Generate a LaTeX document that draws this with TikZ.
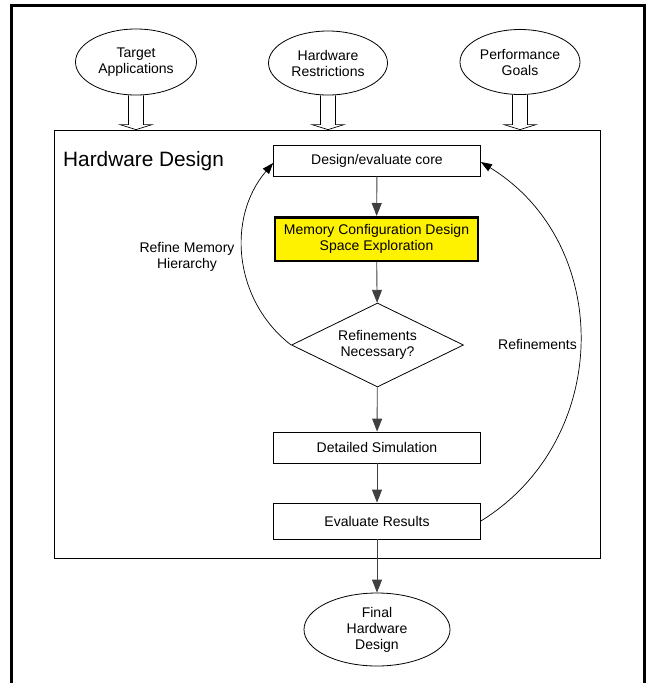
\documentclass[tikz,border=0pt]{standalone}
\usepackage{fontspec}
\setmainfont{Liberation Sans}
\usetikzlibrary{shapes.geometric,arrows.meta,calc}
\begin{document}
\begin{tikzpicture}[x=1pt,y=-1pt,
  every node/.style={font=\fontsize{14}{16}\selectfont, align=center, inner sep=0pt},
  oval/.style={draw, ellipse, line width=0.8pt},
  proc/.style={draw, rectangle, line width=0.8pt, minimum width=207pt},
  flow/.style={draw=black!75, line width=0.9pt, -{Triangle[length=13pt,width=10pt]}},
  loopback/.style={draw=black, line width=0.7pt, -{Triangle[length=11pt,width=8pt]}},
  hollow/.style={draw, line width=0.7pt}]
\useasboundingbox (0,0) rectangle (649,683);
\fill[white] (0,0) rectangle (649,683);
\draw[line width=3pt] (11,683) -- (11,5) -- (644,5) -- (644,683);

% container
\node[draw, line width=0.8pt, minimum width=546pt, minimum height=428pt] (hw) at (327,344) {};
\node[anchor=base west, font=\fontsize{20.8}{24}\selectfont] (title) at (63,166) {Hardware Design};

% inputs
\node[oval, minimum width=121pt, minimum height=66pt] (ta) at (136,62) {Target\\Applications};
\node[oval, minimum width=119pt, minimum height=64pt] (hr) at (328,63) {Hardware\\Restrictions};
\node[oval, minimum width=120pt, minimum height=65pt] (pg) at (520,62) {Performance\\Goals};

\foreach \e in {ta,hr,pg} {
  \draw[hollow] ($(\e.south)+(-7.5,0)$) -- ($(\e.south |- hw.north)+(-7.5,-5)$)
    -- ($(\e.south |- hw.north)+(-16,-5)$) -- (\e.south |- hw.north)
    -- ($(\e.south |- hw.north)+(16,-5)$) -- ($(\e.south |- hw.north)+(7.5,-5)$)
    -- ($(\e.south)+(7.5,0)$);
}

% process
\node[proc, minimum height=31pt] (core) at (377,160.5) {Design/evaluate core};
\node[draw, line width=2.5pt, fill=yellow, minimum width=203pt, minimum height=43.5pt] (mem) at (376.5,239) {Memory Configuration Design\\Space Exploration};
\node[draw, diamond, aspect=2, line width=0.8pt, minimum width=172pt, minimum height=84pt] (dec) at (377.5,345) {Refinements\\Necessary?};
\node[proc, minimum height=31pt] (sim) at (377,447.5) {Detailed Simulation};
\node[proc, minimum height=36pt] (eval) at (377,521) {Evaluate Results};
\node[oval, minimum width=146pt, minimum height=73pt] (fin) at (377,629.5) {Final\\Hardware\\Design};

\node (lbl1) at (187,257) {Refine Memory\\Hierarchy};
\node (lbl2) at (537.5,344) {Refinements};

\draw[flow] (core) -- (mem);
\draw[flow] (mem) -- (dec);
\draw[flow] (dec) -- (sim);
\draw[flow] (sim) -- (eval);
\draw[flow] (eval) -- (fin);

\draw[loopback] (dec.west) .. controls (234,301) and (226,218) .. ([yshift=-2.5pt]core.west);
\draw[loopback] (eval.east) .. controls (612,440) and (614,244) .. ([yshift=-1.5pt]core.east);
\end{tikzpicture}
\end{document}
